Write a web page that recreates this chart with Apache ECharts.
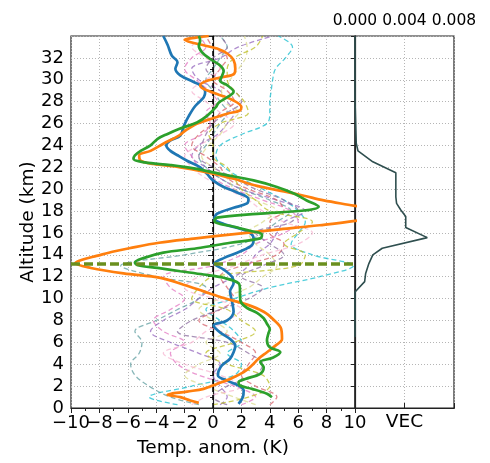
<!DOCTYPE html>
<html>
<head>
<meta charset="utf-8">
<script src="https://cdn.jsdelivr.net/npm/echarts@6/dist/echarts.min.js"></script>
<style>
  html, body { margin: 0; padding: 0; background: #fff; }
  #chart { width: 490px; height: 463px; }
</style>
</head>
<body>
<div id="chart"></div>
<script>
// ---- Temperature anomaly profiles (K) versus altitude (km) ----
const blueAlt = [34, 33.2, 32.2, 31.6, 31.0, 30.4, 29.8, 29.5, 28.9, 28.4, 27.6, 26.7, 25.8, 24.9, 24.46, 24.0, 23.5, 23.1, 22.6, 22.0, 21.4, 20.8, 20.2, 19.7, 19.1, 18.7, 18.3, 17.75, 17.3, 16.8, 16.15, 15.5, 14.9, 14.3, 13.7, 13.2, 12.65, 12.0, 11.4, 10.66, 9.75, 8.8, 8.0, 7.54, 6.9, 6.3, 5.7, 5.1, 4.5, 3.9, 3.4, 2.97, 2.5, 2.05, 1.6, 0.99, 0.38];
const blueTemp = [-3.5, -3.2, -2.9, -2.5, -2.65, -2.3, -1.36, -0.9, -0.55, -0.65, -1.25, -1.7, -2.05, -2.3, -3.0, -3.29, -3.0, -2.5, -1.83, -0.9, -0.42, 0.0, 0.75, 1.7, 2.5, 2.4, 1.45, 0.28, 0.1, 0.8, 2.4, 2.86, 2.75, 1.9, 0.75, 0.1, 0.75, 1.34, 1.45, 1.2, 1.34, 1.45, 1.0, 0.05, 0.5, 1.2, 1.57, 1.45, 1.2, 0.63, 0.4, 0.35, 1.0, 1.8, 2.16, 2.1, 1.8];

const orangeAlt = [34.0, 33.85, 33.65, 33.4, 33.15, 32.85, 32.4, 31.8, 31.0, 30.5, 30.2, 29.9, 29.5, 29.2, 28.7, 28.1, 27.5, 27.2, 26.9, 26.4, 26.0, 25.35, 24.9, 24.15, 23.5, 23.1, 22.6, 22.3, 22.0, 21.6, 20.95, 20.3, 19.8, 19.4, 18.97, 18.5, 18.1, 17.5, 17.1, 16.7, 16.3, 15.9, 15.5, 15.1, 14.6, 14.3, 13.9, 13.6, 13.25, 12.8, 12.3, 11.9, 11.27, 10.66, 10.05, 9.45, 8.8, 8.07, 7.24, 6.3, 5.7, 5.1, 4.5, 3.9, 3.27, 2.66, 2.2, 1.75, 1.5, 1.2, 0.99, 0.68, 0.47];
const orangeTemp = [-0.3, -1.2, -2.0, -1.5, -0.66, 0.28, 1.0, 1.45, 1.57, 1.45, 0.5, -0.42, -0.9, -0.7, 0.28, 1.45, 2.0, 1.9, 1.0, -0.2, -1.1, -1.95, -2.4, -3.5, -4.4, -5.2, -5.1, -4.2, -2.3, -0.66, 1.45, 3.1, 5.0, 6.4, 7.8, 9.9, 11.5, 11.5, 10.0, 7.5, 4.5, 1.5, -1.2, -3.8, -5.9, -7.0, -8.2, -9.1, -9.7, -8.6, -6.3, -3.7, -2.07, -0.66, 0.75, 2.4, 3.57, 4.27, 4.8, 4.86, 4.4, 3.8, 3.2, 2.75, 2.16, 1.2, 0.28, -0.66, -1.83, -3.2, -2.3, -1.6, -1.0];

const greenAlt = [34, 33.6, 33.1, 32.5, 31.9, 31.3, 30.8, 30.4, 29.9, 29.5, 28.9, 28.4, 27.9, 27.5, 26.7, 26.1, 25.5, 25.05, 24.6, 24.0, 23.5, 23.1, 22.75, 22.45, 22.2, 21.9, 21.4, 20.8, 20.2, 19.6, 18.97, 18.4, 18.05, 17.75, 17.4, 17.1, 16.5, 16.2, 15.85, 15.5, 15.1, 14.6, 14.2, 13.7, 13.3, 13.05, 12.8, 12.5, 12.2, 11.9, 11.4, 10.8, 10.2, 9.6, 9.14, 8.7, 8.2, 7.7, 7.2, 6.8, 6.2, 5.56, 5.1, 4.6, 4.2, 3.7, 3.1, 2.66, 2.36, 2.05, 1.75, 1.3, 0.99];
const greenTemp = [-1.0, -0.9, -1.0, -0.77, -0.2, 0.5, 0.75, 0.65, 0.5, 1.0, 1.45, 1.0, 0.4, 0.2, -0.42, -1.13, -2.4, -3.2, -3.9, -4.4, -5.1, -5.5, -5.6, -4.8, -3.0, -1.36, 0.5, 2.86, 4.5, 5.7, 6.6, 7.44, 6.4, 3.1, 0.28, 0.1, 1.7, 2.6, 3.45, 3.33, 1.22, -1.13, -3.5, -4.9, -5.5, -5.3, -3.9, -2.3, -0.66, 0.75, 1.8, 1.9, 1.9, 2.0, 2.4, 3.1, 3.57, 3.8, 4.0, 3.9, 3.8, 4.0, 4.74, 4.2, 3.33, 3.57, 3.3, 2.28, 1.8, 1.9, 2.75, 3.8, 4.15];

// Ensemble members sampled on a common altitude grid
const memberAlt = [0.3, 1, 2, 3, 4, 5, 6, 7, 8, 9, 10, 11, 12, 13, 14, 15, 16, 17, 18, 19, 20, 21, 22, 23, 24, 25, 26, 27, 28, 29, 30, 31, 32, 33, 34];
const memberA = [-2.5, -4.5, -1.5, 1.5, 2.0, 1.0, 2.0, 1.5, 0.5, -0.5, 1.5, 4.0, 7.5, 9.9, 7.0, 5.5, 6.0, 6.5, 6.0, 5.0, 3.5, 2.0, 0.8, 0.2, 0.5, 2.0, 3.8, 4.0, 4.0, 4.1, 4.2, 4.4, 5.1, 5.6, 4.6];
const memberB = [-1.0, -3.0, -4.5, -5.5, -5.8, -5.2, -5.0, -5.5, -4.0, -2.5, -1.0, -0.5, -4.0, -6.5, -2.0, 2.0, 3.5, 4.5, 5.5, 4.0, 2.0, 0.5, -0.5, -1.0, -0.5, 0.0, 0.5, 1.0, 0.5, 0.0, -0.5, 0.0, 0.5, 1.0, 0.5];
const memberC = [0.5, 1.0, 0.5, 0.0, 0.5, -1.0, -3.0, -4.4, -3.5, -2.0, -1.0, 0.0, 1.5, 2.5, 3.0, 4.0, 4.5, 5.0, 6.5, 4.5, 2.0, 0.5, -0.5, -1.5, -1.0, 0.3, 1.0, 1.5, 1.0, 0.5, -1.0, -1.5, 0.5, 1.8, 4.2];
const memberD = [2.0, 3.0, 1.5, -1.0, -2.5, -3.0, -2.0, -3.5, -4.2, -3.0, -2.0, -3.0, -3.5, 0.0, 2.0, 3.0, 5.0, 6.0, 5.5, 3.5, 1.5, 0.0, -1.0, -1.5, -2.0, -0.8, -0.2, -0.5, 0.3, -0.3, -1.2, -2.0, -1.5, -0.5, -1.0];
const memberE = [3.0, 1.5, -0.5, -2.0, -1.0, 0.5, -0.5, 1.0, 0.0, -1.0, 0.5, 2.5, 3.5, 4.5, 4.0, 3.0, 2.5, 3.5, 4.5, 3.0, 1.5, 1.0, 0.0, -0.8, -0.3, 0.5, 1.0, 1.8, 0.8, 0.6, 1.2, 1.8, 2.3, 2.4, 2.2];
const memberF = [4.0, 4.5, 3.0, 2.0, 2.5, 3.0, 2.0, 0.5, -1.0, 0.5, 1.5, 1.0, 0.5, 2.0, 4.5, 5.0, 4.0, 4.0, 5.0, 4.5, 2.5, 1.0, 0.5, -0.5, -1.5, -1.0, 0.0, 0.5, 1.5, 1.0, 0.0, 0.5, 1.0, 0.0, -0.5];
const memberG = [1.0, 0.0, 1.0, 3.0, 3.5, 2.5, 1.0, -2.5, -1.5, 0.5, 2.5, 3.5, 2.0, 3.5, 5.0, 4.0, 3.0, 5.5, 6.0, 5.0, 3.0, 1.5, 0.0, -1.0, -0.8, -0.5, 0.0, 1.0, 2.0, 1.5, 0.5, -0.5, 0.0, 1.0, 0.5];
const memberH = [-1.5, -0.5, 2.0, 0.5, -2.0, -3.5, -1.5, -0.5, 1.0, 2.0, 0.0, -2.0, -1.0, 1.5, 3.5, 6.0, 7.0, 5.0, 3.5, 2.5, 1.0, -0.5, -1.5, -2.0, -1.0, 0.5, 1.5, 0.5, -0.5, -1.5, -0.5, 0.5, -0.5, -1.5, -0.5];
const memberI = [0.0, 2.5, 4.0, 3.5, 1.0, -0.5, 1.5, 3.0, 2.0, 1.0, -1.5, -1.0, 0.0, 6.0, 6.5, 5.0, 6.0, 7.0, 4.0, 3.0, 2.0, 1.5, 1.0, 0.0, 0.0, -0.3, 0.5, 2.5, 2.2, 1.5, 1.0, 1.0, 1.5, 3.0, 3.5];

// Reference level marked across the profile panel (km)
const markAlt = 13.15;

// VEC profile
const vecAlt = [6.5, 10.6, 11.55, 12.3, 13.2, 14.0, 14.6, 15.57, 16.5, 17.5, 18.1, 18.7, 19.3, 21.5, 22.5, 23.5, 24.2, 28.2, 34];
const vecVal = [0, 0, 0.00078, 0.00086, 0.00112, 0.00144, 0.0022, 0.00584, 0.0041, 0.0041, 0.0037, 0.00336, 0.0033, 0.0033, 0.00144, 0.00024, 0.0001, 0, 0];

// Axis ranges and ticks
const tempRange = [-10, 10], tempStep = 2;
const altRange = [0, 34], altStep = 2;
const vecRange = [0, 0.008], vecStep = 0.004;

// ---- styling ----
const FONT = 'DejaVu Sans';
const memberColors = ['#17becf', '#5f9ea0', '#9467bd', '#e377c2', '#dbdb8d', '#d6616b', '#8c6d9f', '#f7b6d2', '#bcbd22'];
const members = [memberA, memberB, memberC, memberD, memberE, memberF, memberG, memberH, memberI];

const zip = (xs, ys) => xs.map((x, i) => [x, ys[i]]);
const minusFmt = v => (v < 0 ? '\u2212' + Math.abs(v) : String(v));
const gridLine = { show: true, lineStyle: { color: '#b5b5b5', width: 1, type: [1, 2] } };
const spine = { show: true, lineStyle: { color: '#222', width: 1.2 } };
const tick = (len) => ({ show: true, length: len, lineStyle: { color: '#222', width: 1 } });
const tickFont = { color: '#000', fontSize: 18, fontFamily: FONT };
const nameFont = { color: '#000', fontSize: 18.5, fontFamily: FONT };

const series = [];
members.forEach((m, i) => {
  series.push({
    type: 'line', xAxisIndex: 0, yAxisIndex: 0,
    data: zip(m, memberAlt), smooth: 0.35, symbol: 'none',
    lineStyle: { color: memberColors[i], width: 1.3, type: [5, 3], opacity: 0.75 },
    z: 2, silent: true
  });
});
series.push({
  type: 'line', xAxisIndex: 0, yAxisIndex: 0,
  data: [[0, altRange[0]], [0, altRange[1]]], symbol: 'none',
  lineStyle: { color: '#000', width: 1.5, type: [5, 3] }, z: 3, silent: true
});
[[blueTemp, blueAlt, '#1f77b4'], [orangeTemp, orangeAlt, '#ff7f0e'], [greenTemp, greenAlt, '#2ca02c']].forEach(([t, a, c]) => {
  series.push({
    type: 'line', xAxisIndex: 0, yAxisIndex: 0,
    data: zip(t, a), smooth: 0.35, symbol: 'none',
    lineStyle: { color: c, width: 2.7 }, z: 4, silent: true
  });
});
series.push({
  type: 'line', xAxisIndex: 0, yAxisIndex: 0,
  data: [[tempRange[0], markAlt], [tempRange[1], markAlt]], symbol: 'none',
  lineStyle: { color: '#6a8f1e', width: 3.5, type: [9, 4] }, z: 5, silent: true
});
series.push({
  type: 'line', xAxisIndex: 1, yAxisIndex: 1,
  data: zip(vecVal, vecAlt), symbol: 'none',
  lineStyle: { color: '#2f4f4f', width: 1.6 }, z: 4, silent: true
});

const chart = echarts.init(document.getElementById('chart'), null, { renderer: 'canvas' });
chart.setOption({
  animation: false,
  backgroundColor: '#fff',
  textStyle: { fontFamily: FONT },
  grid: [
    { left: 71, top: 36, width: 284, height: 372, show: true, borderColor: '#222', borderWidth: 1.2 },
    { left: 355, top: 36, width: 99, height: 372, show: true, borderColor: '#222', borderWidth: 1.2 }
  ],
  xAxis: [
    {
      // temperature axis: the leftmost label is drawn by the companion axis below so
      // that the crowded "−10" / "−8" pair both stay visible
      gridIndex: 0, type: 'value', min: tempRange[0], max: tempRange[1], interval: tempStep,
      axisLine: spine, axisTick: tick(5),
      minorTick: { show: true, splitNumber: 2, length: 3, lineStyle: { color: '#222' } },
      axisLabel: Object.assign({ margin: 6, showMaxLabel: true,
        formatter: v => (v === tempRange[0] ? '' : minusFmt(v)) }, tickFont),
      splitLine: gridLine,
      name: 'Temp. anom. (K)', nameLocation: 'middle', nameGap: 31, nameMoveOverlap: false,
      nameTextStyle: nameFont
    },
    {
      gridIndex: 1, type: 'value', position: 'top', min: vecRange[0], max: vecRange[1], interval: vecStep,
      axisLine: spine, axisTick: tick(5),
      axisLabel: { color: '#000', fontSize: 15.5, fontFamily: FONT, margin: 7, formatter: v => v.toFixed(3),
                   showMinLabel: true, showMaxLabel: true },
      splitLine: gridLine
    },
    {
      gridIndex: 1, type: 'value', position: 'bottom', min: vecRange[0], max: vecRange[1], interval: vecStep,
      axisLine: spine, axisTick: { show: false }, axisLabel: { show: false }, splitLine: { show: false },
      name: 'VEC', nameLocation: 'middle', nameGap: 5, nameMoveOverlap: false,
      nameTextStyle: nameFont
    },
    {
      gridIndex: 0, type: 'value', position: 'bottom', min: tempRange[0], max: tempRange[1], interval: tempStep,
      axisLine: { show: false }, axisTick: { show: false }, splitLine: { show: false },
      axisLabel: Object.assign({ margin: 6, showMinLabel: true,
        formatter: v => (v === tempRange[0] ? minusFmt(v) : '') }, tickFont)
    }
  ],
  yAxis: [
    {
      gridIndex: 0, type: 'value', min: altRange[0], max: altRange[1], interval: altStep,
      axisLine: spine, axisTick: tick(5),
      minorTick: { show: true, splitNumber: 2, length: 3, lineStyle: { color: '#222' } },
      axisLabel: Object.assign({ margin: 7, showMinLabel: true,
        formatter: v => (v >= altRange[1] ? '' : String(v)) }, tickFont),
      splitLine: gridLine,
      name: 'Altitude (km)', nameLocation: 'middle', nameGap: 33, nameMoveOverlap: false,
      nameTextStyle: nameFont
    },
    {
      gridIndex: 1, type: 'value', min: altRange[0], max: altRange[1], interval: altStep,
      axisLine: spine, axisTick: tick(4), axisLabel: { show: false },
      splitLine: gridLine
    }
  ],
  series
});
</script>
</body>
</html>
